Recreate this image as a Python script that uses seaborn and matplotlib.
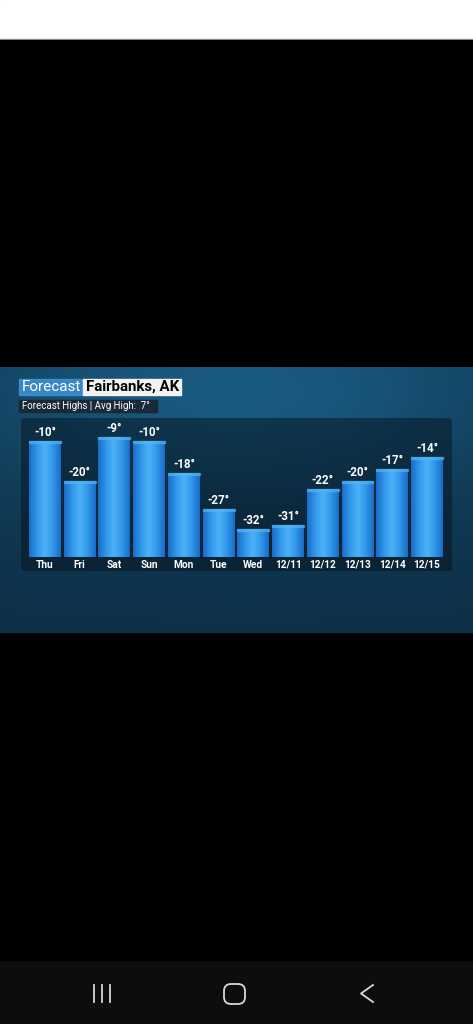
import numpy as np
import matplotlib
matplotlib.use("Agg")
import matplotlib.pyplot as plt
import seaborn as sns
from matplotlib.colors import LinearSegmentedColormap
from matplotlib.patches import Rectangle, FancyBboxPatch

# ------------------------- Data -------------------------
days = ["Thu", "Fri", "Sat", "Sun", "Mon", "Tue", "Wed",
        "12/11", "12/12", "12/13", "12/14", "12/15"]
highs = [-10, -20, -9, -10, -18, -27, -32, -31, -22, -20, -17, -14]
title_left = "Forecast"
title_city = "Fairbanks, AK"
subtitle = "Forecast Highs | Avg High:  7°"
bar_floor = -39  # temperature where the bars start

heights = [t - bar_floor for t in highs]

# ------------------------- Figure -------------------------
W, H = 473, 1024
fig = plt.figure(figsize=(W / 100, H / 100), dpi=100, facecolor="black")


def px_axes(x0, y0, x1, y1):
    # axes placed by pixel box, y measured from the top
    return fig.add_axes([x0 / W, 1 - y1 / H, (x1 - x0) / W, (y1 - y0) / H])


# status bar
top = px_axes(0, 0, W, 40)
top.set_xlim(0, W)
top.set_ylim(40, 0)
top.axis("off")
top.add_patch(Rectangle((0, 0), W, 38.5, color="white"))
top.add_patch(Rectangle((0, 38.5), W, 1.5, color="#8a8a8a"))

# background panel with a soft blue gradient
panel = px_axes(0, 367, W, 633)
panel.set_xlim(0, W)
panel.set_ylim(633, 367)
panel.axis("off")
gx, gy = np.meshgrid(np.linspace(0, 1, 200), np.linspace(0, 1, 120))
glow = np.exp(-((gx - 0.5) ** 2 / 0.35 + (gy - 0.1) ** 2 / 0.2))
shade = 0.45 + 0.55 * glow - 0.1 * gy
bg_cmap = LinearSegmentedColormap.from_list("bg", ["#0a2335", "#113c58", "#1a5b82"])
panel.imshow(shade, cmap=bg_cmap, extent=(0, W, 633, 367), aspect="auto",
             vmin=0.1, vmax=1.0, zorder=0)

# title boxes
panel.add_patch(Rectangle((19, 379), 63, 15.5, color="#3f93d6", alpha=0.85, zorder=2))
panel.add_patch(Rectangle((83, 379), 98, 15.5, color="#f2f2f2", zorder=2))
panel.add_patch(Rectangle((19, 399.5), 138, 12, color="#1b2632", alpha=0.9, zorder=2))
panel.text(21.5, 387, title_left, color="white", fontsize=11, family="Roboto",
           va="center", ha="left", zorder=3)
panel.text(85.5, 387, title_city, color="black", fontsize=10.8, family="Roboto",
           fontweight="bold", va="center", ha="left", zorder=3)
panel.text(22, 405.8, subtitle, color="white", fontsize=7, family="Roboto",
           va="center", ha="left", zorder=3)

# inner dark box behind the bars
panel.add_patch(FancyBboxPatch((21, 418), 431, 153, boxstyle="round,pad=0,rounding_size=3",
                               facecolor="#06141f", edgecolor="none", alpha=0.5, zorder=1))

# ------------------------- Bars -------------------------
ax = px_axes(20, 417, 453, 572)
ax.set_facecolor("none")
sns.barplot(x=days, y=heights, color="#2b8ce4", width=0.92, saturation=1,
            ax=ax, zorder=2)

bar_cmap = LinearSegmentedColormap.from_list(
    "bar", ["#1a6cc6", "#3097ea", "#4db2f6", "#3097ea", "#1a6cc6"])
ramp = np.linspace(0, 1, 64).reshape(1, -1)
for p in ax.patches:
    x0, y0 = p.get_x(), p.get_y()
    w, h = p.get_width(), p.get_height()
    im = ax.imshow(ramp, cmap=bar_cmap, extent=(x0, x0 + w, y0, y0 + h),
                   aspect="auto", zorder=3)
    im.set_clip_path(p)
    ax.add_patch(Rectangle((x0, y0 + h - 0.4), w, 0.4, color="#55b5f5", alpha=0.6, zorder=4))

for i, (h, t) in enumerate(zip(heights, highs)):
    ax.text(i, h + 0.6, f"{t}°", color="white", fontsize=8.3, family="Roboto",
            fontweight="bold", ha="center", va="bottom", zorder=5)
    ax.text(i, -1.9, days[i], color="white", fontsize=7.3, family="Roboto",
            fontweight="bold", ha="center", va="center", zorder=5)

ax.set_xlim(-0.72, 11.75)
ax.set_ylim(-3.75, 35)
ax.axis("off")

# ------------------------- Navigation bar -------------------------
nav = px_axes(0, 961, W, H)
nav.set_xlim(0, W)
nav.set_ylim(H, 961)
nav.axis("off")
nav.add_patch(Rectangle((0, 961), W, H - 961, color="#0d0d0d"))
for xl in (93.5, 101.5, 109.5):
    nav.plot([xl, xl], [985, 1002], color="#d8d8d8", lw=1.3)
nav.add_patch(FancyBboxPatch((224, 984), 21, 20, boxstyle="round,pad=0,rounding_size=7",
                             facecolor="none", edgecolor="#d8d8d8", lw=1.3))
nav.plot([373, 361, 373], [985, 993.5, 1002], color="#d8d8d8", lw=1.3)

fig.savefig("out.png", dpi=100, facecolor="black")
